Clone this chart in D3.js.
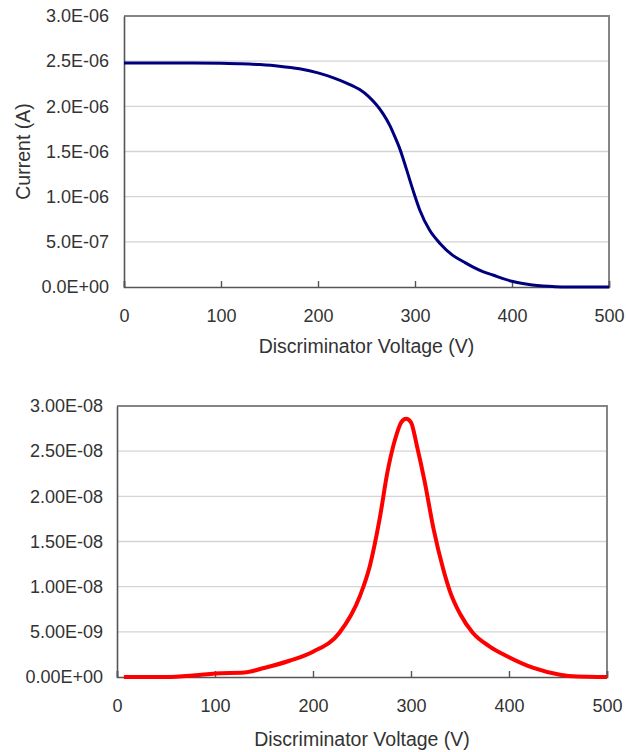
<!DOCTYPE html>
<html>
<head>
<meta charset="utf-8">
<script src="https://cdnjs.cloudflare.com/ajax/libs/d3/7.8.5/d3.min.js"></script>
<style>
  body { margin: 0; background: #fff; }
  text { font-family: "Liberation Sans", Arial, sans-serif; fill: #333; }
</style>
</head>
<body>
<div id="chart"></div>
<script>
// ---- data ----
var xTicks = [0, 100, 200, 300, 400, 500]

// integral curve: current vs discriminator voltage
var topVolts = [0, 50, 100, 120, 140, 160, 181, 200, 216, 230, 243, 252, 260, 267, 274, 279, 284, 291, 298, 305, 315, 326, 339, 350, 360, 370, 381, 390, 401, 411, 421, 432, 445, 460, 480, 500]
var topCurrent = [2.48e-6, 2.48e-6, 2.478e-6, 2.472e-6, 2.462e-6, 2.445e-6, 2.415e-6, 2.37e-6, 2.315e-6, 2.255e-6, 2.185e-6, 2.11e-6, 2.02e-6, 1.92e-6, 1.79e-6, 1.67e-6, 1.54e-6, 1.31e-6, 1.07e-6, 0.85e-6, 0.63e-6, 0.48e-6, 0.35e-6, 0.28e-6, 0.22e-6, 0.17e-6, 0.13e-6, 0.095e-6, 0.06e-6, 0.038e-6, 0.022e-6, 0.011e-6, 0.004e-6, 0.001e-6, 0, 0]
var topYTicks = [0, 0.5e-6, 1.0e-6, 1.5e-6, 2.0e-6, 2.5e-6, 3.0e-6]

// differential curve
var botVolts = [7, 50, 80, 100, 130, 150, 176, 200, 227, 248, 258, 268, 276, 284, 290, 295, 300, 306, 314, 323, 333, 340, 350, 363, 380, 398, 425, 452, 470, 490, 500]
var botValue = [0, 0, 0.2e-9, 0.4e-9, 0.5e-9, 1.0e-9, 1.8e-9, 2.8e-9, 4.9e-9, 9.0e-9, 12.3e-9, 17.5e-9, 22.7e-9, 26.4e-9, 28.2e-9, 28.6e-9, 28.2e-9, 25.6e-9, 21.6e-9, 16.4e-9, 11.9e-9, 9.4e-9, 7.0e-9, 4.9e-9, 3.4e-9, 2.3e-9, 1.0e-9, 0.25e-9, 0.05e-9, 0, 0]
var botYTicks = [0, 5e-9, 10e-9, 15e-9, 20e-9, 25e-9, 30e-9]

var width = 626, height = 752

var svg = d3.select('#chart').append('svg')
    .attr('width', width)
    .attr('height', height)

svg.append('rect').attr('width', width).attr('height', height).attr('fill', '#fff')

// excel style "2.5E-06"
function sci(digits) {
  return function (d) {
    var s = d.toExponential(digits).split('e')
    var e = +s[1]
    return s[0] + 'E' + (e < 0 ? '-' : '+') + (Math.abs(e) < 10 ? '0' : '') + Math.abs(e)
  }
}

function drawPanel(opt) {
  var g = svg.append('g')
  var x = d3.scaleLinear().domain([0, 500]).range([opt.left, opt.right])
  var y = d3.scaleLinear().domain([0, opt.yTicks[opt.yTicks.length - 1]]).range([opt.bottom, opt.top])

  // gridlines
  g.append('g').selectAll('line')
    .data(opt.yTicks.slice(1, -1))
    .enter().append('line')
    .attr('x1', opt.left).attr('x2', opt.right)
    .attr('y1', d => y(d)).attr('y2', d => y(d))
    .attr('stroke', '#d4d4d4').attr('stroke-width', 1.3)

  // top + right frame
  g.append('path')
    .attr('d', 'M' + opt.left + ',' + opt.top + 'H' + opt.right + 'V' + opt.bottom)
    .attr('fill', 'none').attr('stroke', '#858585').attr('stroke-width', 2)

  // y axis
  var yAxis = g.append('g')
    .attr('transform', 'translate(' + opt.left + ',0)')
    .call(d3.axisLeft(y).tickValues(opt.yTicks).tickFormat(sci(opt.digits)).tickSize(0).tickPadding(opt.yPad))
  yAxis.select('.domain').attr('stroke', '#555').attr('stroke-width', 1.6)
  yAxis.selectAll('text').attr('font-size', '18px').attr('font-family', null).attr('fill', '#333')

  var line = d3.line()
    .x(d => x(d[0]))
    .y(d => y(d[1]))
    .curve(d3.curveMonotoneX)

  // x axis
  var xAxis = g.append('g')
    .attr('transform', 'translate(0,' + opt.bottom + ')')
    .call(d3.axisBottom(x).tickValues(xTicks).tickSize(-6).tickPadding(0))
  xAxis.select('.domain').attr('stroke', '#555').attr('stroke-width', 1.6)
  xAxis.selectAll('.tick line').attr('stroke', '#555').attr('stroke-width', 1.4)
  xAxis.selectAll('text').attr('font-size', '18px').attr('font-family', null).attr('fill', '#333')
    .attr('y', opt.xLabY).attr('dy', 0)

  g.append('path')
    .datum(d3.zip(opt.volts, opt.vals))
    .attr('d', line)
    .attr('fill', 'none')
    .attr('stroke', opt.color)
    .attr('stroke-width', opt.lineW)
    .attr('stroke-linejoin', 'round')

  g.append('text')
    .attr('x', (opt.left + opt.right) / 2)
    .attr('y', opt.titleY)
    .attr('text-anchor', 'middle')
    .attr('font-size', '19.5px')
    .text('Discriminator Voltage (V)')

  if (opt.yTitle) {
    g.append('text')
      .attr('transform', 'translate(30,' + (opt.top + opt.bottom) / 2 + ')rotate(-90)')
      .attr('text-anchor', 'middle')
      .attr('font-size', '19.5px')
      .text(opt.yTitle)
  }
}

drawPanel({
  left: 124, right: 609, top: 16, bottom: 287,
  yTicks: topYTicks, digits: 1, yPad: 15,
  volts: topVolts, vals: topCurrent,
  color: '#00007f', lineW: 3,
  xLabY: 35, titleY: 353, yTitle: 'Current (A)'
})

drawPanel({
  left: 117, right: 607, top: 406, bottom: 677,
  yTicks: botYTicks, digits: 2, yPad: 14,
  volts: botVolts, vals: botValue,
  color: '#ff0000', lineW: 4,
  xLabY: 35, titleY: 746
})
</script>
</body>
</html>
